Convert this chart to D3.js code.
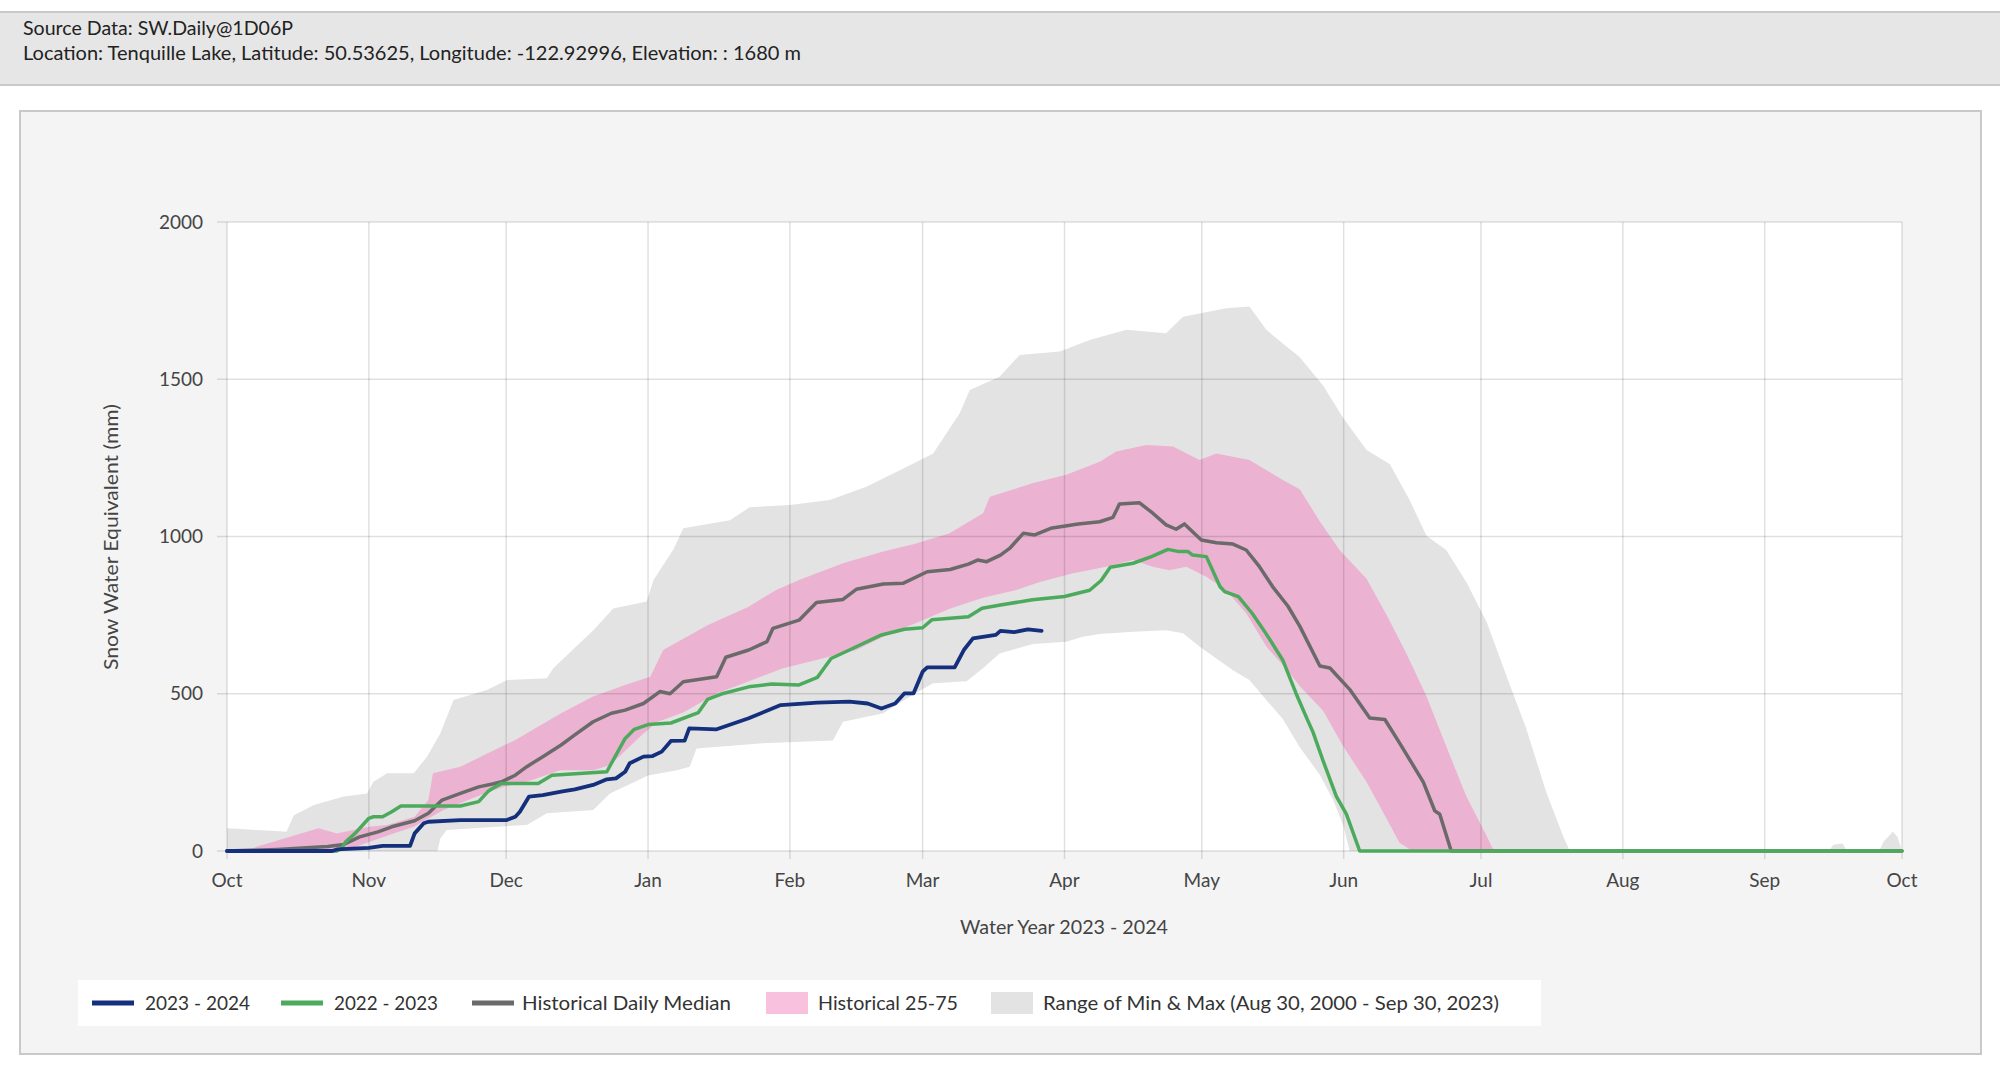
<!DOCTYPE html>
<html>
<head>
<meta charset="utf-8">
<script src="https://cdn.jsdelivr.net/npm/d3@7"></script>
<style>
  html, body { margin: 0; padding: 0; background: #ffffff; }
  svg { display: block; }
  text { font-family: Lato, "Open Sans", sans-serif; fill: #333; }
</style>
</head>
<body>
<svg id="chart" width="2000" height="1066"></svg>
<script>
// ---------------- DATA (x = days since start of water year) ----------------
const waterYearStart = "2023-10-01";
const waterYearEnd = "2024-10-01";
const yTicks = [0, 500, 1000, 1500, 2000];

const headerLines = [
  "Source Data: SW.Daily@1D06P",
  "Location: Tenquille Lake, Latitude: 50.53625, Longitude: -122.92996, Elevation: : 1680 m"
];
const yTitle = "Snow Water Equivalent (mm)";
const xTitle = "Water Year 2023 - 2024";
const legendLabels = ["2023 - 2024", "2022 - 2023", "Historical Daily Median", "Historical 25-75",
  "Range of Min & Max (Aug 30, 2000 - Sep 30, 2023)"];

// 2023 - 2024 season [day, SWE mm]
const swe2024 = [[0,0],[23,0],[24,5],[31,10],[34,16],[40,16],[41,56],[43,88],[44,93],[51,98],[61,98],[63,109],
  [64,125],[66,173],[69,178],[73,189],[76,196],[80,210],[83,228],[85,231],[87,252],[88,279],[91,300],[93,302],
  [95,316],[97,350],[100,351],[101,390],[107,387],[114,422],[121,464],[129,472],[136,475],[140,469],[143,453],
  [146,469],[148,501],[150,501],[152,570],[153,584],[159,584],[161,639],[163,676],[168,687],[169,700],[172,696],
  [175,705],[178,700]];

// 2022 - 2023 season
const swe2023 = [[0,0],[24,0],[25,8],[26,30],[28,56],[31,104],[32,109],[34,109],[36,125],[38,143],[51,143],
  [55,157],[57,189],[58,199],[60,215],[68,215],[71,241],[83,252],[84,279],[87,358],[89,387],[92,402],[97,407],
  [103,440],[105,482],[108,499],[114,522],[119,531],[125,528],[129,552],[132,612],[136,639],[143,687],[148,705],
  [152,710],[154,735],[162,745],[165,772],[169,782],[176,799],[183,809],[188.5,829],[191,860],[193,902],[198,915],
  [202,936],[205.6,959],[208,952],[210,952],[211,941],[214,936],[217,840],[218,825],[221,809],[224,756],[227,692],
  [230.7,607],[233.6,501],[236,420],[237.3,378],[239.5,287],[242.4,174],[244.6,117],[247.5,0],[366,0]];

// Historical daily median
const sweMedian = [[0,0],[5,2],[11,5],[22,14],[25.5,21],[29,45],[33,61],[36,77],[41,96],[44,120],[47,162],
  [51,183],[55,204],[58,213],[60,220],[63,241],[65.5,268],[69,300],[73,337],[76,369],[80,411],[84,438],[87,448],
  [91,469],[94.6,507],[96.8,500],[99.7,538],[107,554],[109,616],[114,639],[118,666],[119.3,708],[125,734],
  [128.8,790],[134.6,800],[137.5,832],[143.4,849],[147.7,851],[153,888],[158,895],[162,912],[164,925],[166,920],
  [169,941],[171,962],[174,1010],[176.5,1005],[180,1026],[186,1040],[190.7,1047],[193.6,1061],[195,1103],
  [199.4,1107],[202.3,1074],[205.2,1037],[207.4,1023],[209.2,1040],[212.9,989],[216.2,980],[219.8,976],
  [222.7,957],[225.6,904],[228.5,840],[231.8,779],[234.4,715],[238.8,588],[241,582],[245.3,514],[249.7,423],
  [253,418],[256.2,344],[261.4,219],[263.9,128],[265,117],[267.5,0],[366,0]];

// Historical 75th percentile (upper edge of pink band)
const sweP75 = [[0,0],[5,5],[7,16],[20,72],[24,56],[31,77],[35,83],[41,109],[44,162],[45,247],[51,268],[60,332],
  [63,353],[73,438],[80,491],[87,528],[92.5,554],[95.3,639],[105,718],[114,777],[120,830],[125,862],[134.6,915],
  [143.4,952],[150.6,978],[157.9,1010],[165.2,1074],[166.7,1126],[176,1169],[183.4,1196],[190.7,1238],
  [194.3,1270],[200.9,1291],[206.7,1286],[212.5,1243],[216.2,1264],[223.4,1243],[230.7,1180],[234.4,1150],
  [238.8,1048],[243.1,957],[249,866],[253.3,753],[257.7,628],[262.1,492],[266.4,333],[270.8,174],[275.2,49],
  [276.3,15],[277,0],[366,0]];

// Historical 25th percentile (lower edge of pink band)
const sweP25 = [[0,0],[25.5,0],[27,8],[36.4,56],[40.8,77],[47.3,130],[54.6,173],[60.4,204],[65.5,220],
  [72.8,257],[80,257],[83.7,273],[91,374],[94,410],[99.7,440],[107,501],[121.5,581],[128.8,607],[137.5,639],
  [143.4,681],[150.6,725],[157.9,770],[165.2,805],[172.5,830],[177.6,855],[184.9,883],[192.1,904],[198,925],
  [202.3,904],[205.9,893],[209.6,904],[214,872],[218.3,830],[222.7,756],[227.1,650],[231.4,580],[234.4,525],
  [239.5,446],[243.9,333],[249,219],[253.3,105],[256.2,26],[259,0],[366,0]];

// Historical maximum (upper edge of grey band)
const sweMax = [[0,72],[4,69],[13,61],[14.6,114],[19,146],[25.5,173],[30.6,183],[32,220],[35,247],[40.8,247],
  [43.7,300],[46.6,374],[49.5,480],[56.8,512],[61.2,544],[69.9,549],[71.3,581],[80.1,703],[84.4,771],[91.7,793],
  [93.2,862],[97.6,960],[99.7,1026],[109.9,1052],[114.2,1093],[123,1100],[131.7,1116],[139.7,1158],[147,1211],
  [154.3,1264],[160.1,1392],[162.3,1466],[168.8,1508],[173.2,1577],[182,1588],[188.5,1625],[196.5,1657],
  [205.2,1646],[208.9,1699],[218.3,1726],[223.4,1731],[227.1,1657],[234.4,1570],[239.5,1480],[243.9,1377],
  [249,1275],[254.1,1230],[258.4,1116],[262.1,1002],[266.4,957],[270.8,855],[275.2,730],[279.5,560],
  [283.9,389],[288.3,185],[291.9,49],[293.4,0],[350,0],[351,20],[353,24],[354,0],[361,0],[362,30],[364,61],
  [365,45],[366,0]];

// Historical minimum (lower edge of grey band)
const sweMin = [[0,0],[46,0],[46.6,40],[48,67],[65.5,83],[69.9,120],[80,130],[83.7,183],[92,240],[98.3,257],
  [101.1,268],[102.6,326],[116.4,342],[132.4,351],[134.6,411],[143.4,438],[150.6,503],[154.3,533],[161.6,540],
  [165.2,581],[168.8,628],[176.1,658],[183.4,665],[187,681],[190.7,690],[198,697],[205.2,702],[208.9,692],
  [212.5,650],[219.8,575],[223.4,544],[227.1,480],[230.7,420],[234.4,330],[238.8,242],[241.7,162],[243.9,83],
  [245.3,0],[366,0]];

// ---------------- DRAWING ----------------
const svg = d3.select("#chart");
const parse = d3.utcParse("%Y-%m-%d");
const t0 = parse(waterYearStart), t1 = parse(waterYearEnd);
const toDate = d => new Date(t0.getTime() + d * 864e5);

const plot = {left: 227, right: 1902, top: 222, bottom: 851};
const x = d3.scaleUtc().domain([t0, t1]).range([plot.left, plot.right]);
const y = d3.scaleLinear().domain([0, 2000]).range([plot.bottom, plot.top]);

const colors = {
  s2024: "#142f7c", s2023: "#4caa5c", median: "#6a6a6a",
  pink: "#ecb2d1", pinkLegend: "#f8c2de", grey: "#e3e3e3"
};

// Header band
svg.append("rect").attr("x", -2).attr("y", 12).attr("width", 2004).attr("height", 73)
  .attr("fill", "#e6e6e6").attr("stroke", "#c9c9c9").attr("stroke-width", 2);
const headerWidths = [270, 778];
svg.selectAll("text.hdr").data(headerLines).join("text")
  .attr("class", "hdr").attr("x", 23).attr("y", (d, i) => 35 + i * 25)
  .attr("font-size", 19.5).style("fill", "#222")
  .attr("textLength", (d, i) => headerWidths[i]).attr("lengthAdjust", "spacingAndGlyphs")
  .text(d => d);

// Chart panel
svg.append("rect").attr("x", 20).attr("y", 111).attr("width", 1961).attr("height", 943)
  .attr("fill", "#f4f4f4").attr("stroke", "#c9c9c9").attr("stroke-width", 2);

// Plot background
svg.append("rect").attr("x", plot.left).attr("y", plot.top)
  .attr("width", plot.right - plot.left).attr("height", plot.bottom - plot.top).attr("fill", "#ffffff");

const lineGen = d3.line().x(d => x(toDate(d[0]))).y(d => y(d[1]));
const bandPath = (upper, lower) => lineGen(upper.concat(lower.slice().reverse())) + "Z";

// Min-max band
svg.append("path").attr("d", bandPath(sweMax, sweMin)).attr("fill", colors.grey);
// 25-75 band
svg.append("path").attr("d", bandPath(sweP75, sweP25)).attr("fill", colors.pink);

// Grid (on top of bands, faint)
const months = x.ticks(d3.utcMonth.every(1));
svg.append("g").selectAll("line").data(months).join("line")
  .attr("x1", d => x(d)).attr("x2", d => x(d)).attr("y1", plot.top).attr("y2", plot.bottom + 8)
  .attr("stroke", "rgba(0,0,0,0.12)").attr("stroke-width", 1.5);
svg.append("g").selectAll("line").data(yTicks).join("line")
  .attr("x1", plot.left - 10).attr("x2", plot.right).attr("y1", d => y(d)).attr("y2", d => y(d))
  .attr("stroke", "rgba(0,0,0,0.12)").attr("stroke-width", 1.5);

// Axis labels
svg.append("g").selectAll("text").data(yTicks).join("text")
  .attr("x", 203).attr("y", d => y(d)).attr("dy", "0.35em").attr("text-anchor", "end")
  .attr("font-size", 19).style("fill", "#444").text(d => d);
const fmt = d3.utcFormat("%b");
svg.append("g").selectAll("text").data(months).join("text")
  .attr("x", d => x(d)).attr("y", 887).attr("text-anchor", "middle")
  .attr("font-size", 19).style("fill", "#444").text(d => fmt(d));

svg.append("text").attr("transform", "translate(118,537) rotate(-90)").attr("text-anchor", "middle")
  .attr("font-size", 20).style("fill", "#444")
  .attr("textLength", 266).attr("lengthAdjust", "spacingAndGlyphs").text(yTitle);
svg.append("text").attr("x", 1064).attr("y", 934).attr("text-anchor", "middle")
  .attr("font-size", 19.5).style("fill", "#444")
  .attr("textLength", 208).attr("lengthAdjust", "spacingAndGlyphs").text(xTitle);

// Series lines
const series = [
  {data: sweMedian, color: colors.median, w: 3.5},
  {data: swe2023, color: colors.s2023, w: 3.5},
  {data: swe2024, color: colors.s2024, w: 3.8}
];
svg.append("g").selectAll("path").data(series).join("path")
  .attr("d", s => lineGen(s.data)).attr("fill", "none")
  .attr("stroke", s => s.color).attr("stroke-width", s => s.w)
  .attr("stroke-linejoin", "round").attr("stroke-linecap", "round");

// Legend
const lg = svg.append("g");
lg.append("rect").attr("x", 78).attr("y", 980).attr("width", 1463).attr("height", 46).attr("fill", "#ffffff");
const legendItems = [
  {type: "line", color: colors.s2024, sx: 92, tx: 145, tw: 105},
  {type: "line", color: colors.s2023, sx: 281, tx: 334, tw: 104},
  {type: "line", color: colors.median, sx: 472, tx: 522, tw: 209},
  {type: "rect", color: colors.pinkLegend, sx: 766, tx: 818, tw: 140},
  {type: "rect", color: colors.grey, sx: 991, tx: 1043, tw: 456}
];
const items = lg.selectAll("g").data(legendItems).join("g");
items.filter(d => d.type === "line").append("line")
  .attr("x1", d => d.sx).attr("x2", d => d.sx + 42).attr("y1", 1003).attr("y2", 1003)
  .attr("stroke", d => d.color).attr("stroke-width", 5);
items.filter(d => d.type === "rect").append("rect")
  .attr("x", d => d.sx).attr("y", 992).attr("width", 42).attr("height", 22).attr("fill", d => d.color);
items.append("text").attr("x", d => d.tx).attr("y", 1003).attr("dy", "0.35em")
  .attr("font-size", 19).style("fill", "#333")
  .attr("textLength", d => d.tw).attr("lengthAdjust", "spacingAndGlyphs")
  .text((d, i) => legendLabels[i]);
</script>
</body>
</html>
